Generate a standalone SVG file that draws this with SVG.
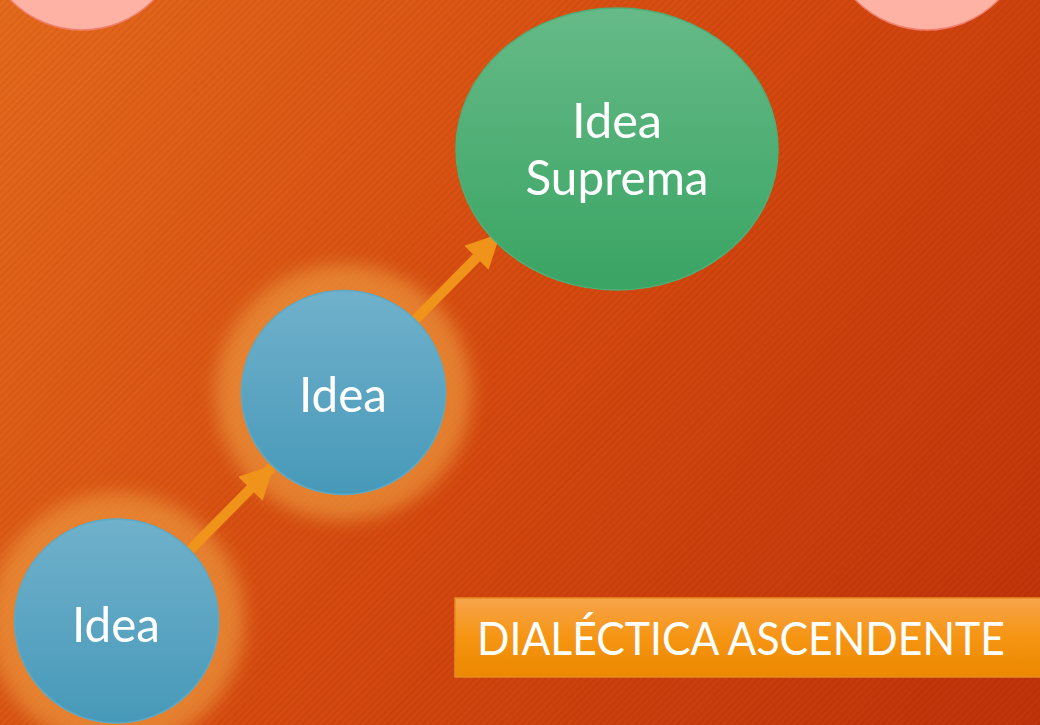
<svg xmlns="http://www.w3.org/2000/svg" width="1040" height="725" viewBox="0 0 1040 725">
<defs>
<linearGradient id="bg" x1="0" y1="0" x2="1040" y2="725" gradientUnits="userSpaceOnUse">
<stop offset="0" stop-color="#E56A1C"/>
<stop offset="0.5" stop-color="#D6490F"/>
<stop offset="1" stop-color="#C0330A"/>
</linearGradient>
<pattern id="stripes" width="5" height="5" patternUnits="userSpaceOnUse" patternTransform="rotate(45)">
<rect x="0" y="0" width="2" height="5" fill="#000" fill-opacity="0.05"/>
</pattern>
<linearGradient id="blue" x1="0" y1="0" x2="0" y2="1">
<stop offset="0" stop-color="#70B1CB"/>
<stop offset="1" stop-color="#4799B9"/>
</linearGradient>
<linearGradient id="green" x1="0" y1="0" x2="0" y2="1">
<stop offset="0" stop-color="#66BA87"/>
<stop offset="1" stop-color="#39A463"/>
</linearGradient>
<linearGradient id="pink" x1="0" y1="0" x2="0" y2="1">
<stop offset="0" stop-color="#FDBDB0"/>
<stop offset="1" stop-color="#FDB1A3"/>
</linearGradient>
<linearGradient id="title" x1="0" y1="0" x2="0" y2="1">
<stop offset="0" stop-color="#F7A44C"/>
<stop offset="0.5" stop-color="#F69512"/>
<stop offset="1" stop-color="#EC8800"/>
</linearGradient>
<filter id="glow" x="-50%" y="-50%" width="200%" height="200%">
<feGaussianBlur stdDeviation="9"/>
</filter>
<marker id="head" viewBox="0 0 10 10" refX="9" refY="5" markerWidth="3.4" markerHeight="3.4" markerUnits="strokeWidth" orient="auto">
<path d="M0,0 L10,5 L0,10 Z" fill="#F0931A"/>
</marker>
<style>
.lbl{font-family:Lato,"Open Sans",sans-serif;font-weight:400;fill:#fff;text-anchor:middle;font-size:49px}
.blue{fill:url(#blue);stroke:#5BAAC9;stroke-width:1.5}
.halo{fill:#EA9238;fill-opacity:0.75;filter:url(#glow)}
.arrow{stroke:#F0931A;stroke-width:10;fill:none;marker-end:url(#head)}
</style>
</defs>
<rect width="1040" height="725" fill="url(#bg)"/>
<rect width="1040" height="725" fill="url(#stripes)"/>

<g id="pink-left"><circle cx="82" cy="-70" r="100" fill="url(#pink)" stroke="#F07E6C" stroke-width="1.5"/></g>
<g id="pink-right"><circle cx="927" cy="-70" r="100" fill="url(#pink)" stroke="#F07E6C" stroke-width="1.5"/></g>

<g id="glow-halos">
<circle class="halo" cx="343.5" cy="392.5" r="128"/>
<circle class="halo" cx="116.5" cy="621" r="128"/>
</g>

<g id="connectors">
<line class="arrow" x1="186" y1="554" x2="272" y2="467"/>
<line class="arrow" x1="412" y1="323" x2="498" y2="236"/>
</g>

<g id="node-suprema">
<ellipse cx="617" cy="149" rx="161" ry="141" fill="url(#green)" stroke="#4DB078" stroke-width="1.5"/>
<text class="lbl" x="617" y="138" textLength="90" lengthAdjust="spacingAndGlyphs">Idea</text>
<text class="lbl" x="617" y="195" textLength="183" lengthAdjust="spacingAndGlyphs">Suprema</text>
</g>

<g id="node-idea-mid">
<circle class="blue" cx="343.5" cy="392.5" r="102"/>
<text class="lbl" x="343" y="412" textLength="88" lengthAdjust="spacingAndGlyphs">Idea</text>
</g>

<g id="node-idea-low">
<circle class="blue" cx="116.5" cy="621" r="102"/>
<text class="lbl" x="116" y="642" textLength="88" lengthAdjust="spacingAndGlyphs">Idea</text>
</g>

<g id="title-box">
<rect x="455" y="598" width="585" height="79" fill="url(#title)"/>
<path d="M1040,598 H455 V677 H1040" fill="none" stroke="#E98A22" stroke-width="1.5"/>
<text x="477" y="655" font-family="Lato,'Open Sans',sans-serif" font-weight="400" font-size="47" fill="#fff" textLength="528" lengthAdjust="spacingAndGlyphs">DIALÉCTICA ASCENDENTE</text>
</g>
</svg>
